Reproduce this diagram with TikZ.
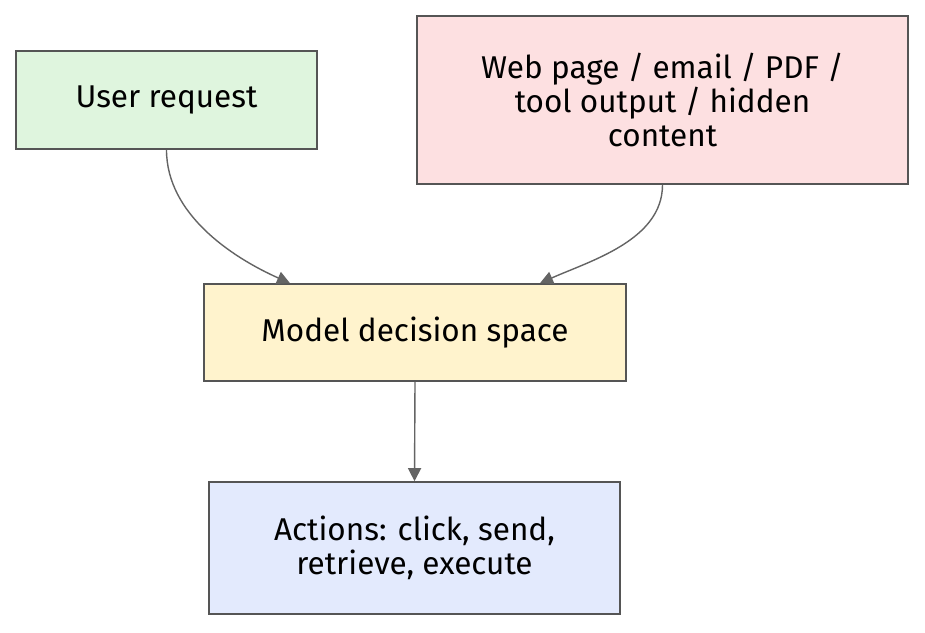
\documentclass[tikz,border=0pt]{standalone}
\usepackage{fontspec}
\setmainfont{Fira Sans}
\usetikzlibrary{arrows.meta}

\definecolor{flowUiUser}{RGB}{223,245,222}
\definecolor{flowUiSource}{RGB}{253,224,225}
\definecolor{flowUiModel}{RGB}{255,243,205}
\definecolor{flowUiAction}{RGB}{227,234,253}
\definecolor{flowUiBorder}{RGB}{85,85,85}
\definecolor{flowUiLink}{RGB}{100,100,100}

\begin{document}
\begin{tikzpicture}[x=1pt,y=1pt,
      box/.style={draw=flowUiBorder, line width=1.6pt, align=center,
        font=\fontsize{31.5}{34}\selectfont, text=black, inner sep=0pt},
      link/.style={draw=flowUiLink, line width=1.4pt,
        -{Triangle[length=13pt,width=13pt]}}]
      \useasboundingbox (0,0) rectangle (925,632);
      \fill[white] (0,0) rectangle (925,632);

      \node[box, fill=flowUiUser, minimum width=301pt, minimum height=98pt]
        (user) at (166.5,532) {User request};
      \node[box, fill=flowUiSource, minimum width=491pt, minimum height=168pt]
        (source) at (662.5,532)
        {Web page / email / PDF /\\tool output / hidden\\content};
      \node[box, fill=flowUiModel, minimum width=422pt, minimum height=97pt]
        (model) at (415,299.5) {Model decision space};
      \node[box, fill=flowUiAction, minimum width=411pt, minimum height=132pt]
        (action) at (414.5,84) {Actions: click, send,\\retrieve, execute};

      \draw[link] (user.south) to[out=-90, in=156, looseness=0.9]
        ([xshift=-125pt]model.north);
      \draw[link] (source.south) to[out=-90, in=24, looseness=0.9]
        ([xshift=125pt]model.north);
      \draw[link] (model.south) -- (action.north);
    \end{tikzpicture}
\end{document}
